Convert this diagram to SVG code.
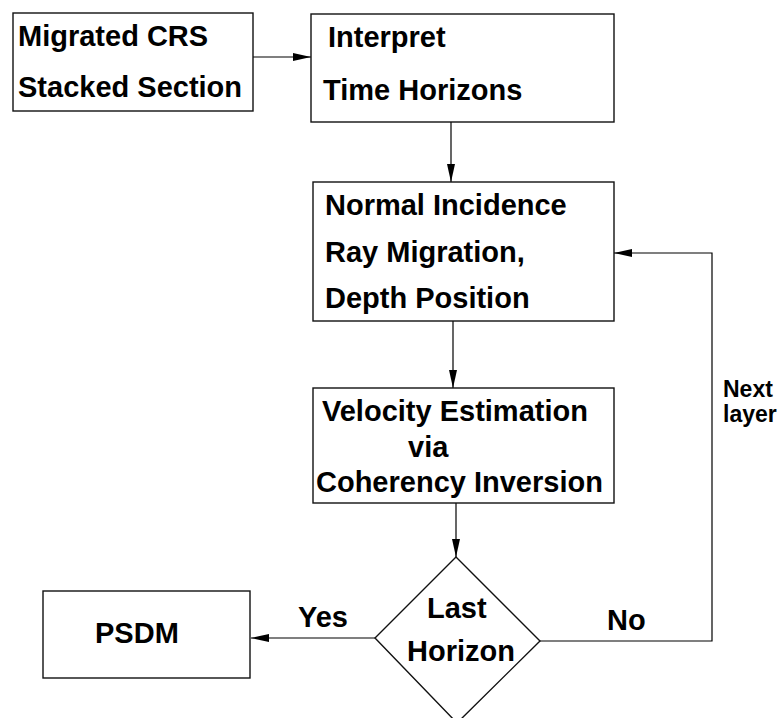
<svg xmlns="http://www.w3.org/2000/svg" width="778" height="718" viewBox="0 0 778 718">
<defs>
<marker id="ah" markerWidth="18" markerHeight="8" refX="18" refY="4" orient="auto" markerUnits="userSpaceOnUse">
<path d="M0,0 L18,4 L0,8 Z" fill="#000"/>
</marker>
<style>
.box{fill:#fff;stroke:#111;stroke-width:1.4}
.t{font-family:"Liberation Sans",Arial,Helvetica,sans-serif;font-weight:bold;font-size:29px;fill:#000}
.s{font-family:"Liberation Sans",Arial,Helvetica,sans-serif;font-weight:bold;font-size:23px;fill:#000}
.c{fill:none;stroke:#000;stroke-width:1.2}
</style>
</defs>
<rect width="778" height="718" fill="#fff"/>
<g id="connectors">
<line class="c" x1="253" y1="57" x2="311" y2="57" marker-end="url(#ah)"/>
<line class="c" x1="451" y1="122" x2="451" y2="182" marker-end="url(#ah)"/>
<line class="c" x1="453" y1="321" x2="453" y2="388" marker-end="url(#ah)"/>
<line class="c" x1="456" y1="503" x2="456" y2="557" marker-end="url(#ah)"/>
<line class="c" x1="375" y1="638" x2="251" y2="638" marker-end="url(#ah)"/>
<polyline class="c" points="540,641 712,641 712,253 614,253" marker-end="url(#ah)"/>
<text class="t" x="298" y="627">Yes</text>
<text class="t" x="607" y="630">No</text>
<text class="s" x="723" y="397">Next</text>
<text class="s" x="723" y="422">layer</text>
</g>
<g id="n1">
<rect class="box" x="13" y="13" width="240" height="98"/>
<text class="t" x="18" y="46">Migrated CRS</text>
<text class="t" x="18" y="97">Stacked Section</text>
</g>
<g id="n2">
<rect class="box" x="311" y="14" width="303" height="108"/>
<text class="t" x="328" y="47">Interpret</text>
<text class="t" x="323" y="100">Time Horizons</text>
</g>
<g id="n3">
<rect class="box" x="313" y="182" width="301" height="139"/>
<text class="t" x="325" y="215">Normal Incidence</text>
<text class="t" x="325" y="262">Ray Migration,</text>
<text class="t" x="325" y="308">Depth Position</text>
</g>
<g id="n4">
<rect class="box" x="313" y="388" width="301" height="115"/>
<text class="t" x="322" y="421">Velocity Estimation</text>
<text class="t" x="408" y="457">via</text>
<text class="t" x="316" y="492">Coherency Inversion</text>
</g>
<g id="n5">
<polygon class="box" points="456,557 540,641 457,723 375,638"/>
<text class="t" x="427" y="618">Last</text>
<text class="t" x="407" y="661">Horizon</text>
</g>
<g id="n6">
<rect class="box" x="43" y="591" width="207" height="87"/>
<text class="t" x="95" y="643">PSDM</text>
</g>
</svg>
